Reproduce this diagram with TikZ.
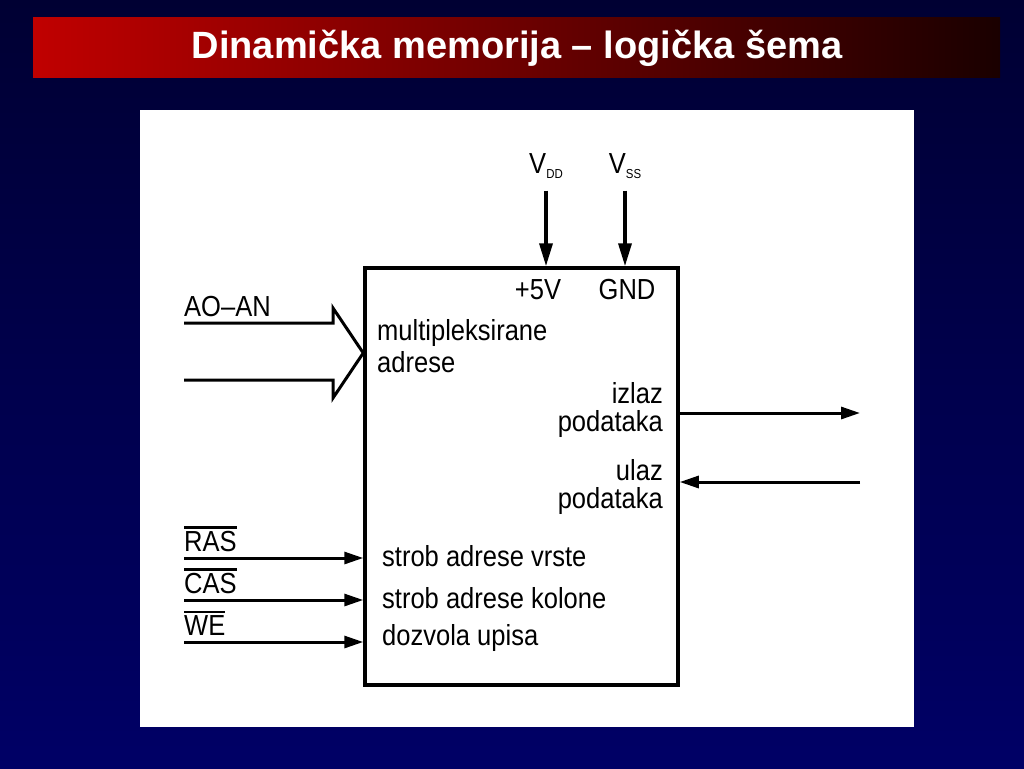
\documentclass[tikz,border=0pt]{standalone}
\usepackage{fontspec}
\usepackage{xcolor}
\usepackage{tikz}
\usetikzlibrary{arrows.meta}
\newfontfamily\diagfont[FakeStretch=0.88]{Liberation Sans}
\newfontfamily\titlefont{Liberation Sans}
\definecolor{bgtop}{HTML}{000033}
\definecolor{bgbottom}{HTML}{000066}
\definecolor{barleft}{HTML}{C00000}
\definecolor{barright}{HTML}{1A0000}
\newcommand{\ovl}[1]{\vbox{\hrule height 2.5pt\kern 2.5pt\hbox{#1}}}
\newcommand{\subs}[1]{\raisebox{-5pt}{\fontsize{13}{13}\selectfont #1}}
\tikzstyle{label}=[font=\diagfont\fontsize{29}{30}\selectfont, inner sep=0pt]
\tikzstyle{chip}=[draw=black, line width=3.5pt, minimum width=313pt, minimum height=417pt, inner sep=0pt]
\tikzstyle{signal}=[line width=3pt, -{Triangle[length=19pt, width=12pt]}]
\tikzstyle{supply}=[line width=3.5pt, -{Triangle[length=23pt, width=13pt]}]
\tikzstyle{bus}=[line width=3pt, line join=miter]
\pgfdeclarelayer{background}
\pgfsetlayers{background,main}

\begin{document}
\begin{tikzpicture}[x=1pt, y=-1pt]
	\useasboundingbox (0, 0) rectangle (1024, 768);
	\begin{pgfonlayer}{background}
		\shade [top color=bgtop, bottom color=bgbottom] (0, 0) rectangle (1024, 768);
		\shade [left color=barleft, right color=barright] (33, 18) rectangle (1000, 77);
		\fill [white] (140, 110) rectangle (914, 727);
	\end{pgfonlayer}
	\node [text=white, font=\titlefont\bfseries\fontsize{38}{40}\selectfont] (title) at (517, 48) {Dinamička memorija – logička šema};

	\node [style=chip] (chip) at (521.5, 476.5) {};
	\node [style=label] (vdd) at (546, 166) {V\subs{DD}};
	\node [style=label] (vss) at (625, 166) {V\subs{SS}};
	\node [style=label] (plus) at (538, 290) {+5V};
	\node [style=label] (gnd) at (627, 290) {GND};
	\node [style=label, anchor=west] (addr1) at (377, 333) {multipleksirane};
	\node [style=label, anchor=west] (addr2) at (377, 362) {adrese};
	\node [style=label, anchor=west] (bus) at (184, 307) {AO–AN};
	\node [style=label, anchor=east] (out1) at (663, 393) {izlaz};
	\node [style=label, anchor=east] (out2) at (663, 424) {podataka};
	\node [style=label, anchor=east] (in1) at (663, 470) {ulaz};
	\node [style=label, anchor=east] (in2) at (663, 501) {podataka};
	\node [style=label, anchor=south west] (ras) at (184, 552) {\ovl{RAS}};
	\node [style=label, anchor=south west] (cas) at (184, 594) {\ovl{CAS}};
	\node [style=label, anchor=south west] (we) at (184, 636) {\ovl{WE}};
	\node [style=label, anchor=west] (row) at (382, 556) {strob adrese vrste};
	\node [style=label, anchor=west] (col) at (382, 598) {strob adrese kolone};
	\node [style=label, anchor=west] (write) at (382, 638) {dozvola upisa};

	\coordinate (outend) at (860, 413);
	\coordinate (inend) at (860, 482);
	\coordinate (rasin) at (184, 558);
	\coordinate (casin) at (184, 600);
	\coordinate (wein) at (184, 642);

	\draw [style=supply] (vdd.south) ++(0, 12) -- (vdd |- chip.north);
	\draw [style=supply] (vss.south) ++(0, 12) -- (vss |- chip.north);
	\draw [style=bus] (184, 323) -- (333, 323) -- (333, 308) -- (chip.west |- 0, 353) -- (333, 398) -- (333, 380) -- (184, 380);
	\draw [style=signal] (outend -| chip.east) -- (outend);
	\draw [style=signal] (inend) -- (inend -| chip.east);
	\draw [style=signal] (rasin) -- (rasin -| chip.west);
	\draw [style=signal] (casin) -- (casin -| chip.west);
	\draw [style=signal] (wein) -- (wein -| chip.west);
\end{tikzpicture}
\end{document}
